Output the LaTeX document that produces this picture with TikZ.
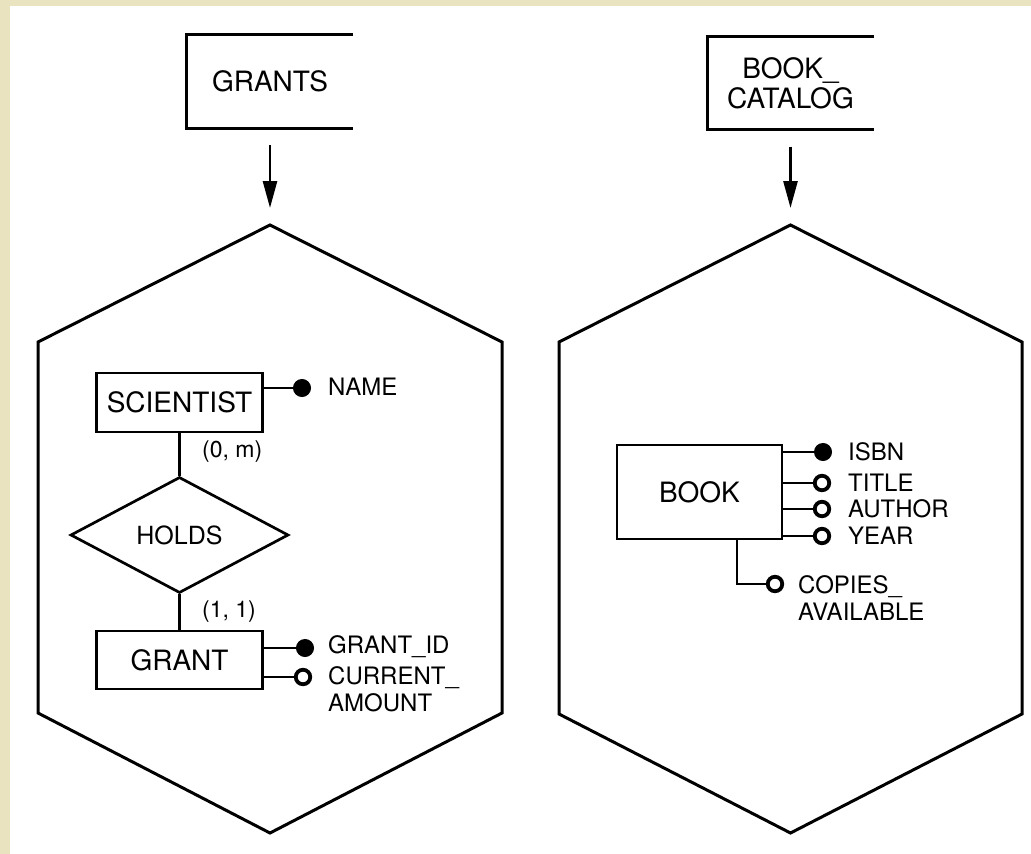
\documentclass[tikz,border=0pt]{standalone}
\usepackage{fontspec}
\setmainfont{TeX Gyre Heros}
\usetikzlibrary{shapes.geometric,arrows.meta}
\definecolor{paper}{RGB}{234,227,192}
\begin{document}
\begin{tikzpicture}[x=1pt,y=-1pt,
  hexline/.style={line width=3pt, line join=miter},
  frame/.style={line width=2.7pt},
  entity/.style={draw, line width=2.7pt, minimum width=166pt, inner sep=0pt,
    font=\fontsize{28}{30}\selectfont},
  relship/.style={draw, diamond, line width=2.7pt, minimum width=218pt,
    minimum height=116pt, inner sep=0pt, aspect=1.88,
    font=\fontsize{25}{27}\selectfont},
  schema/.style={minimum width=166pt, minimum height=93pt, inner sep=0pt,
    align=center, font=\fontsize{28}{30}\selectfont},
  keyattr/.style={circle, fill=black, draw, line width=1pt, minimum size=17pt,
    inner sep=0pt},
  optattr/.style={circle, draw, fill=white, line width=3.8pt, minimum size=14.5pt,
    inner sep=0pt},
  attrlbl/.style={anchor=west, inner sep=0pt, align=left,
    font=\fontsize{24}{27}\selectfont},
  card/.style={anchor=west, inner sep=0pt, font=\fontsize{23}{25}\selectfont},
  link/.style={line width=2.7pt},
  flow/.style={line width=2.7pt, -{Triangle[length=27pt,width=14pt]},
    shorten <=17pt, shorten >=17pt},
]
\useasboundingbox (0,0) rectangle (1031,854);
% page ground with the tinted margin strip
\fill[paper] (0,0) rectangle (1031,854);
\fill[white] (10,6) rectangle (1031,854);

% ---- GRANTS schema ----
\node[schema] (grants) at (270,81.5) {GRANTS};
\draw[frame] (grants.north east) -- (grants.north west)
  -- (grants.south west) -- (grants.south east);
\coordinate (gtop) at (270,225);
\draw[hexline] (gtop) -- (502,342) -- (502,713) -- (270,833)
  -- (38,713) -- (38,342) -- cycle;
\draw[flow] (grants.south) -- (gtop);

\node[entity, minimum height=59pt] (sci) at (179.5,402.5) {SCIENTIST};
\node[relship] (holds) at (179.5,535) {HOLDS};
\node[entity, minimum height=58pt] (grant) at (179.5,660) {GRANT};
\draw[link] (sci) -- (holds);
\draw[link] (holds) -- (grant);
\node[card] (cm) at (202,452) {(0, m)};
\node[card] (c11) at (202,612) {(1, 1)};

\node[keyattr] (name) at (302,388) {};
\draw[link] (sci.east |- name) -- (name);
\node[attrlbl] (namel) at (328,387) {NAME};

\node[keyattr] (gid) at (305,648) {};
\node[optattr] (gamt) at (303,677) {};
\draw[link] (grant.east |- gid) -- (gid);
\draw[link] (grant.east |- gamt) -- (gamt);
\node[attrlbl] (gidl) at (328,647) {GRANT\_ID};
\node[attrlbl] (gamtl) at (328,689.5) {CURRENT\_\\AMOUNT};

% ---- BOOK_CATALOG schema ----
\node[schema] (catalog) at (790.5,83) {BOOK\_\\CATALOG};
\draw[frame] (catalog.north east) -- (catalog.north west)
  -- (catalog.south west) -- (catalog.south east);
\coordinate (btop) at (790.5,225);
\draw[hexline] (btop) -- (1022,342) -- (1022,714) -- (790.5,833)
  -- (559,714) -- (559,342) -- cycle;
\draw[flow] (catalog.south) -- (btop);

\node[entity, minimum width=165pt, minimum height=94pt] (book) at (699.5,492) {BOOK};

\node[keyattr] (isbn) at (823,452) {};
\node[optattr] (title) at (822,483) {};
\node[optattr] (author) at (822,509) {};
\node[optattr] (year) at (822,536) {};
\draw[link] (book.east |- isbn) -- (isbn);
\draw[link] (book.east |- title) -- (title);
\draw[link] (book.east |- author) -- (author);
\draw[link] (book.east |- year) -- (year);
\node[attrlbl] (isbnl) at (848,452) {ISBN};
\node[attrlbl] (titlel) at (848,483) {TITLE};
\node[attrlbl] (authorl) at (848,509) {AUTHOR};
\node[attrlbl] (yearl) at (848,536) {YEAR};

\node[optattr] (copies) at (775,584) {};
\draw[link] ([xshift=37.5pt]book.south) |- (copies);
\node[attrlbl] (copiesl) at (798,598.5) {COPIES\_\\AVAILABLE};
\end{tikzpicture}
\end{document}
